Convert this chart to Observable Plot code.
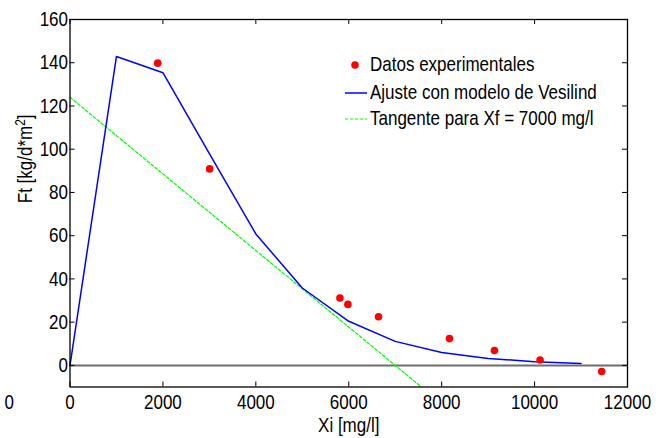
<!DOCTYPE html>
<html>
<head>
<meta charset="utf-8">
<script src="https://cdn.jsdelivr.net/npm/d3@7"></script>
<script src="https://cdn.jsdelivr.net/npm/@observablehq/plot@0.6"></script>
<style>
  body { margin: 0; background: #fff; }
  #wrap { position: relative; width: 662px; height: 438px; font-family: "Liberation Sans", Arial, sans-serif; }
  .legend-row { position: absolute; left: 340px; height: 20px; line-height: 20px; font-size: 17px; color: #000; white-space: nowrap; }
  .legend-row svg { position: absolute; left: 0; top: 0; }
  .legend-row span { position: absolute; left: 30px; top: 0; display: inline-block; transform: scaleY(1.22); transform-origin: 50% 55%; }
</style>
</head>
<body>
<div id="wrap"></div>
<script>
// ---- data ----
const expX = [1888, 3006, 5810, 5982, 6641, 8168, 9136, 10118, 11445];
const expY = [139.8, 90.9, 31.2, 28.2, 22.5, 12.4, 6.9, 2.5, -2.8];

const fitX = [0, 1000, 2000, 3000, 4000, 5000, 6000, 7000, 8000, 9000, 10000, 11000];
const fitY = [0, 142.9, 135.4, 98.0, 60.8, 35.8, 20.4, 11.1, 6.0, 3.2, 1.7, 0.9];

const tanX = [0, 7565];
const tanY = [124, -10];

const xTicks = [0, 2000, 4000, 6000, 8000, 10000, 12000];
const yTicks = [0, 20, 40, 60, 80, 100, 120, 140, 160];
const zeroLine = [0];
const strayTick = ["0"];

const xLabel = ["Xi [mg/l]"];
const yLabel = ["Ft [kg/d*m2]"];
const legendLabels = ["Datos experimentales", "Ajuste con modelo de Vesilind", "Tangente para Xf = 7000 mg/l"];

// ---- tables ----
const exp = expX.map((x, i) => ({x, y: expY[i]}));
const fit = fitX.map((x, i) => ({x, y: fitY[i]}));
const tan = tanX.map((x, i) => ({x, y: tanY[i]}));

const W = 662, H = 438, mL = 69.5, mR = 35, mT = 19, mB = 51.5;
const pw = W - mL - mR, ph = H - mT - mB, tk = 5;
const FONT = "'Liberation Sans', Arial, sans-serif";
const SY = 1.22; // glyphs in the reference are taller / narrower than Arial

const chart = Plot.plot({
  width: W, height: H,
  marginLeft: mL, marginRight: mR, marginTop: mT, marginBottom: mB,
  style: { fontFamily: FONT, fontSize: "17px", color: "#000", background: "#fff", overflow: "visible" },
  x: { domain: [0, 12000] },
  y: { domain: [-10, 160] },
  marks: [
    Plot.ruleY(zeroLine, { y: d => d, stroke: "#6e6e6e", strokeWidth: 2 }),
    Plot.line(tan, { x: "x", y: "y", stroke: "#00ff00", strokeWidth: 1.2, strokeDasharray: "3,2" }),
    Plot.line(fit, { x: "x", y: "y", stroke: "#0000ff", strokeWidth: 1.5 }),
    Plot.dot(exp, { x: "x", y: "y", r: 3.8, fill: "#ff0000", stroke: "none" }),
    // inward ticks (MATLAB style)
    Plot.tickX(xTicks, { x: d => d, insetTop: ph - tk, stroke: "#000" }),
    Plot.tickX(xTicks, { x: d => d, insetBottom: ph - tk, stroke: "#000" }),
    Plot.tickY(yTicks, { y: d => d, insetRight: pw - tk, stroke: "#000" }),
    Plot.tickY(yTicks, { y: d => d, insetLeft: pw - tk, stroke: "#000" }),
    Plot.axisX(xTicks, { anchor: "bottom", tickSize: 0, tickPadding: 7, label: null, tickFormat: d => String(d) }),
    Plot.axisY(yTicks, { anchor: "left", tickSize: 0, tickPadding: 2, label: null, tickFormat: d => String(d) }),
    Plot.text(strayTick, { text: d => d, frameAnchor: "bottom-left", dx: -65.5, dy: 7, lineAnchor: "top" }),
    Plot.text(xLabel, { text: d => d, frameAnchor: "bottom", dy: 38, lineAnchor: "middle" }),
    Plot.text(yLabel, { text: d => d, frameAnchor: "left", dx: -45, rotate: -90, lineAnchor: "middle" }),
    Plot.frame({ stroke: "#000", strokeWidth: 1.3 })
  ]
});

// superscript "2" in the y label
d3.select(chart).selectAll("text").each(function() {
  const t = d3.select(this);
  if (t.text() === yLabel[0]) {
    t.text(null);
    t.append("tspan").text("Ft [kg/d*m");
    t.append("tspan").attr("dy", "-0.45em").attr("font-size", "12px").text("2");
    t.append("tspan").attr("dy", "0.32em").text("]");
  }
});

// stretch glyphs vertically about each text's anchor
d3.select(chart).selectAll("text").each(function() {
  const tr = this.getAttribute("transform");
  if (tr) {
    this.setAttribute("transform", tr + ` scale(1,${SY})`);
  } else {
    const x = +this.getAttribute("x") || 0, y = +this.getAttribute("y") || 0;
    this.setAttribute("transform", `translate(${x},${y}) scale(1,${SY}) translate(${-x},${-y})`);
  }
});

const wrap = document.getElementById("wrap");
wrap.appendChild(chart);

// legend overlay
const tops = [55, 83, 109];
legendLabels.forEach((lab, i) => {
  const row = document.createElement("div");
  row.className = "legend-row";
  row.style.top = tops[i] + "px";
  let sw = "";
  if (i === 0) sw = '<svg width="30" height="20"><circle cx="15" cy="10" r="3.8" fill="#ff0000"/></svg>';
  if (i === 1) sw = '<svg width="30" height="20"><line x1="5" x2="27" y1="10" y2="10" stroke="#0000ff" stroke-width="1.5"/></svg>';
  if (i === 2) sw = '<svg width="30" height="20"><line x1="5" x2="27" y1="10" y2="10" stroke="#00ff00" stroke-width="1.2" stroke-dasharray="3,2"/></svg>';
  row.innerHTML = sw + "<span></span>";
  row.querySelector("span").textContent = lab;
  wrap.appendChild(row);
});
</script>
</body>
</html>
